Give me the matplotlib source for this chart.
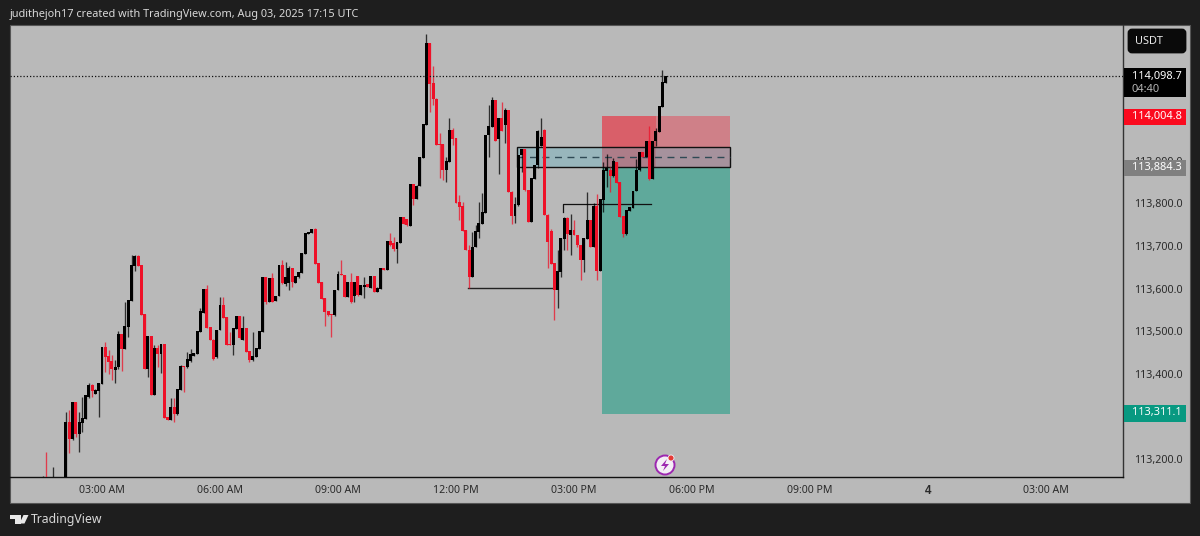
import matplotlib
matplotlib.use("Agg")
import matplotlib.pyplot as plt
from matplotlib.patches import Rectangle, FancyBboxPatch, Polygon, Circle

plt.rcParams['font.family'] = ['Noto Sans', 'DejaVu Sans']

# 5 minute candles
opens = [113150,113158,113120,113105,113140,113120,113110,113130,113287,113249,
         113333,113259,113286,113296,113347,113374,113353,113362,113378,113463,
         113441,113429,113411,113416,113493,113460,113512,113573,113654,113677,
         113655,113540,113413,113489,113352,113460,113448,113470,113298,113294,
         113321,113306,113364,113417,113416,113431,113444,113447,113499,113544,
         113598,113509,113480,113441,113503,113562,113533,113469,113468,113507,
         113536,113481,113507,113452,113433,113441,113460,113499,113627,113569,
         113624,113572,113583,113655,113612,113614,113648,113614,113627,113638,
         113683,113730,113732,113740,113659,113615,113577,113546,113540,113538,
         113597,113634,113632,113581,113615,113583,113628,113587,113605,113611,
         113603,113628,113593,113601,113648,113644,113710,113706,113694,113708,
         113767,113762,113747,113844,113812,113841,113907,113985,114175,114081,
         114045,113939,113938,113878,113898,113972,113952,113802,113792,113737,
         113691,113628,113698,113734,113753,113779,113960,113980,114042,113952,
         114000,113985,114019,113827,113771,113796,113913,113927,113831,113757,
         113859,113890,113935,113972,113773,113734,113659,113597,113640,113718,
         113766,113727,113737,113726,113702,113667,113718,113761,113698,113792,
         113642,113809,113877,113878,113864,113896,113849,113769,113730,113783,
         113790,113829,113878,113920,113909,113945,113859,113946,113969,114027,114083]
closes = [113158,113120,113100,113140,113120,113110,113130,113287,113249,113333,
          113259,113286,113296,113349,113374,113361,113362,113378,113463,113441,
          113429,113413,113416,113493,113460,113512,113573,113655,113677,113655,
          113540,113413,113489,113352,113460,113448,113470,113298,113294,113321,
          113306,113364,113419,113416,113435,113446,113448,113499,113546,113598,
          113509,113480,113437,113503,113562,113533,113468,113468,113507,113536,
          113484,113507,113452,113433,113441,113460,113499,113627,113569,113624,
          113569,113583,113655,113614,113627,113648,113616,113628,113638,113683,
          113730,113732,113740,113659,113615,113577,113546,113538,113538,113597,
          113634,113632,113581,113615,113569,113615,113585,113607,113607,113605,
          113628,113593,113602,113648,113644,113710,113702,113694,113708,113767,
          113753,113749,113844,113812,113841,113907,113985,114175,114081,114045,
          113938,113938,113878,113899,113972,113952,113802,113792,113737,113691,
          113628,113698,113735,113753,113780,113960,113980,114042,113948,114000,
          113970,114019,113827,113771,113798,113913,113927,113831,113757,113859,
          113890,113970,113956,113773,113710,113659,113597,113640,113718,113766,
          113730,113737,113726,113702,113667,113718,113761,113698,113792,113642,
          113809,113878,113882,113864,113898,113849,113769,113728,113784,113790,
          113829,113878,113920,113909,113945,113859,113946,113970,114027,114083,114098.7]
highs = [113160,113218,113125,113181,113145,113130,113135,113312,113316,113335,
         113335,113312,113347,113351,113378,113376,113364,113379,113464,113476,
         113456,113444,113433,113501,113494,113568,113574,113679,113678,113678,
         113656,113541,113490,113490,113468,113468,113471,113471,113299,113343,
         113343,113365,113420,113418,113452,113458,113449,113500,113554,113599,
         113609,113510,113481,113504,113580,113581,113534,113499,113508,113537,
         113537,113536,113508,113453,113499,113461,113500,113628,113628,113625,
         113637,113584,113656,113667,113663,113653,113649,113629,113639,113684,
         113731,113733,113741,113742,113660,113616,113578,113547,113541,113598,
         113641,113667,113633,113616,113637,113616,113629,113608,113628,113612,
         113629,113629,113603,113649,113649,113711,113730,113722,113709,113768,
         113768,113763,113845,113845,113842,113908,113986,114198,114176,114123,
         114046,113964,113939,113909,114000,113976,113953,113820,113804,113738,
         113702,113734,113749,113804,113825,113961,114030,114050,114043,114001,
         114038,114023,114020,113828,113816,113914,113928,113928,113832,113860,
         113891,113971,114000,113975,113774,113740,113660,113691,113719,113767,
         113767,113774,113761,113727,113703,113719,113826,113762,113800,113823,
         113810,113898,113915,113886,113906,113897,113850,113770,113785,113791,
         113830,113904,113921,113921,113946,113981,113947,113976,114028,114113,114099]
lows = [113140,113110,113090,113100,113110,113100,113105,113125,113214,113245,
        113253,113218,113265,113294,113343,113347,113352,113298,113376,113405,
        113400,113386,113378,113412,113408,113459,113486,113572,113642,113654,
        113539,113411,113394,113351,113351,113416,113402,113297,113293,113291,
        113288,113305,113363,113358,113415,113428,113443,113446,113498,113543,
        113508,113479,113433,113437,113502,113532,113467,113467,113445,113506,
        113483,113480,113451,113429,113430,113440,113459,113498,113564,113568,
        113568,113571,113582,113612,113606,113598,113605,113613,113626,113637,
        113682,113729,113731,113658,113614,113576,113513,113537,113487,113537,
        113596,113631,113580,113580,113567,113569,113584,113586,113577,113604,
        113602,113592,113592,113600,113643,113643,113701,113689,113661,113707,
        113752,113748,113746,113796,113811,113840,113906,113984,114015,114030,
        113937,113860,113855,113851,113897,113938,113801,113761,113736,113690,
        113601,113627,113697,113718,113752,113778,113909,113979,113947,113870,
        113969,113941,113826,113751,113753,113795,113874,113830,113756,113756,
        113858,113882,113934,113772,113648,113658,113527,113555,113628,113691,
        113691,113679,113725,113698,113620,113640,113717,113697,113697,113620,
        113641,113780,113839,113827,113863,113848,113768,113722,113726,113782,
        113789,113828,113877,113908,113908,113855,113858,113934,113968,114026,114082]

price_ticks = [113200, 113400, 113500, 113600, 113700, 113800, 113900]
price_labels = ["113,200.0", "113,400.0", "113,500.0", "113,600.0", "113,700.0", "113,800.0", "113,900.0"]
time_ticks = [18, 54, 90, 126, 162, 198, 234, 270, 306]
time_labels = ["03:00 AM", "06:00 AM", "09:00 AM", "12:00 PM", "03:00 PM", "06:00 PM", "09:00 PM", "4", "03:00 AM"]

last_price = 114098.7
target = 114004.8
entry = 113884.3
stop = 113311.1
zone_bottom = 113306
box_top = 113932
box_mid = 113909
low_level = 113601
mid_level = 113799

W, H = 1200, 536
BG = '#b9b9b9'
UP = '#000000'
DOWN = '#ee1128'

fig = plt.figure(figsize=(W / 100, H / 100), dpi=100, facecolor='#1e1e1e')

# panel behind the chart and both axes
deco = fig.add_axes([0, 0, 1, 1], zorder=0)
deco.set_xlim(0, W)
deco.set_ylim(H, 0)
deco.axis('off')
deco.add_patch(Rectangle((10, 25), 1180, 478, fc=BG, ec='#555555', lw=0.8))

ax = fig.add_axes([10 / W, 1 - 477 / H, 1113 / W, 452 / H], zorder=1)
ax.patch.set_alpha(0)
ax.set_xlim(-10.07, 329.5)
ax.set_ylim(113158.5, 114218.2)

for s in ['top', 'left']:
    ax.spines[s].set_visible(False)
ax.spines['bottom'].set_color('#111111')
ax.spines['right'].set_color('#333333')
ax.spines['bottom'].set_linewidth(1.0)
ax.spines['right'].set_linewidth(1.0)

# position tool and the zone on top of it
ax.add_patch(Rectangle((170.5, entry), 39.1, target - entry, fc='#cf8088', ec='none', zorder=1))
ax.add_patch(Rectangle((170.5, entry), 16.5, target - entry, fc='#d95f69', ec='none', zorder=1.1))
ax.add_patch(Rectangle((170.5, zone_bottom), 39.1, entry - zone_bottom, fc='#5fa99b', ec='none', zorder=1))
ax.add_patch(Rectangle((144.6, entry), 65, box_top - entry, fc='#5fb3c4', alpha=0.36, ec='none', zorder=1.2))
ax.add_patch(Rectangle((144.6, entry), 65, box_top - entry, fc='none', ec='#111111', lw=1.0, zorder=1.3))
ax.plot([144.6, 209.6], [box_mid, box_mid], color='#2f4a55', lw=1.0, ls=(0, (5, 4)), zorder=1.4)

ax.plot([129.7, 156.2], [low_level, low_level], color='#222222', lw=1.0, zorder=2)
ax.plot([158.6, 158.6, 185.5], [mid_level - 20, mid_level, mid_level], color='#111111', lw=0.9, zorder=2)

# candles
for i in range(len(opens)):
    col = UP if closes[i] >= opens[i] else DOWN
    ax.vlines(i, lows[i], highs[i], color=col, lw=0.95, alpha=0.75, zorder=3)
    ax.bar(i, abs(closes[i] - opens[i]) + 1.5, bottom=min(opens[i], closes[i]) - 0.75,
           width=0.9, color=col, zorder=3.1)

ax.axhline(last_price, color='#111111', lw=0.9, ls=(0, (1, 1.6)), zorder=4)

ax.yaxis.tick_right()
ax.set_yticks(price_ticks)
ax.set_yticklabels(price_labels, fontsize=7.7, color='#2a2a2a')
ax.set_xticks(time_ticks)
ax.set_xticklabels(time_labels, fontsize=7.6, color='#2a2a2a')
ax.tick_params(axis='y', length=0, pad=8)
ax.tick_params(axis='x', length=0, pad=6)
four = ax.get_xticklabels()[7]
four.set_family(['Liberation Sans'])
four.set_fontweight('bold')
four.set_fontsize(8.4)

# price tags, button, header, footer go on a layer above
top = fig.add_axes([0, 0, 1, 1], zorder=2)
top.patch.set_alpha(0)
top.set_xlim(0, W)
top.set_ylim(H, 0)
top.axis('off')

top.add_patch(FancyBboxPatch((1129, 30), 56, 22, boxstyle='round,pad=0,rounding_size=3', fc='#0a0a0a', ec='#0a0a0a', lw=2))
top.text(1135, 42, "USDT", color='#e8e8e8', fontsize=7.9, va='center')

top.add_patch(Rectangle((1124, 68), 62, 29, fc='#000000', ec='none'))
top.text(1132, 76, "114,098.7", color='white', fontsize=7.9, va='center')
top.text(1132, 89, "04:40", color='#b5b5b5', fontsize=7.9, va='center')
top.add_patch(Rectangle((1124, 109), 62, 16, fc='#fb0a1e', ec='none'))
top.text(1132, 116.5, "114,004.8", color='white', fontsize=7.9, va='center')
top.add_patch(Rectangle((1124, 160), 62, 16, fc='#808080', ec='none'))
top.text(1132, 167.5, "113,884.3", color='white', fontsize=7.9, va='center')
top.add_patch(Rectangle((1124, 405), 62, 17, fc='#089981', ec='none'))
top.text(1132, 413, f"{stop:,.1f}", color='white', fontsize=7.9, va='center')

# lightning badge
top.add_patch(Circle((665, 465), 9.5, fc='#f4eef6', ec='#9c27b0', lw=1.4))
top.add_patch(Polygon([[667, 459], [661, 466], [665, 466], [663, 471], [669, 464], [665, 464]], fc='#9c27b0', ec='none'))
top.add_patch(Circle((671, 458), 3, fc='#e53935', ec='#f4eef6', lw=0.6))

top.text(10, 14, "judithejoh17 created with TradingView.com, Aug 03, 2025 17:15 UTC",
         color='#d8d8d8', fontsize=7.85, va='center')

top.add_patch(Polygon([[10, 515], [20.5, 515], [20.5, 523.5], [14.5, 523.5], [14.5, 518.5], [10, 518.5]], fc='#e8e8e8', ec='none'))
top.add_patch(Polygon([[23.5, 515], [28.5, 515], [24.5, 523.5], [19.5, 523.5]], fc='#e8e8e8', ec='none'))
top.text(31, 519.5, "TradingView", color='#d8d8d8', fontsize=8.8, va='center')

fig.savefig('out.png', dpi=100, facecolor=fig.get_facecolor())
